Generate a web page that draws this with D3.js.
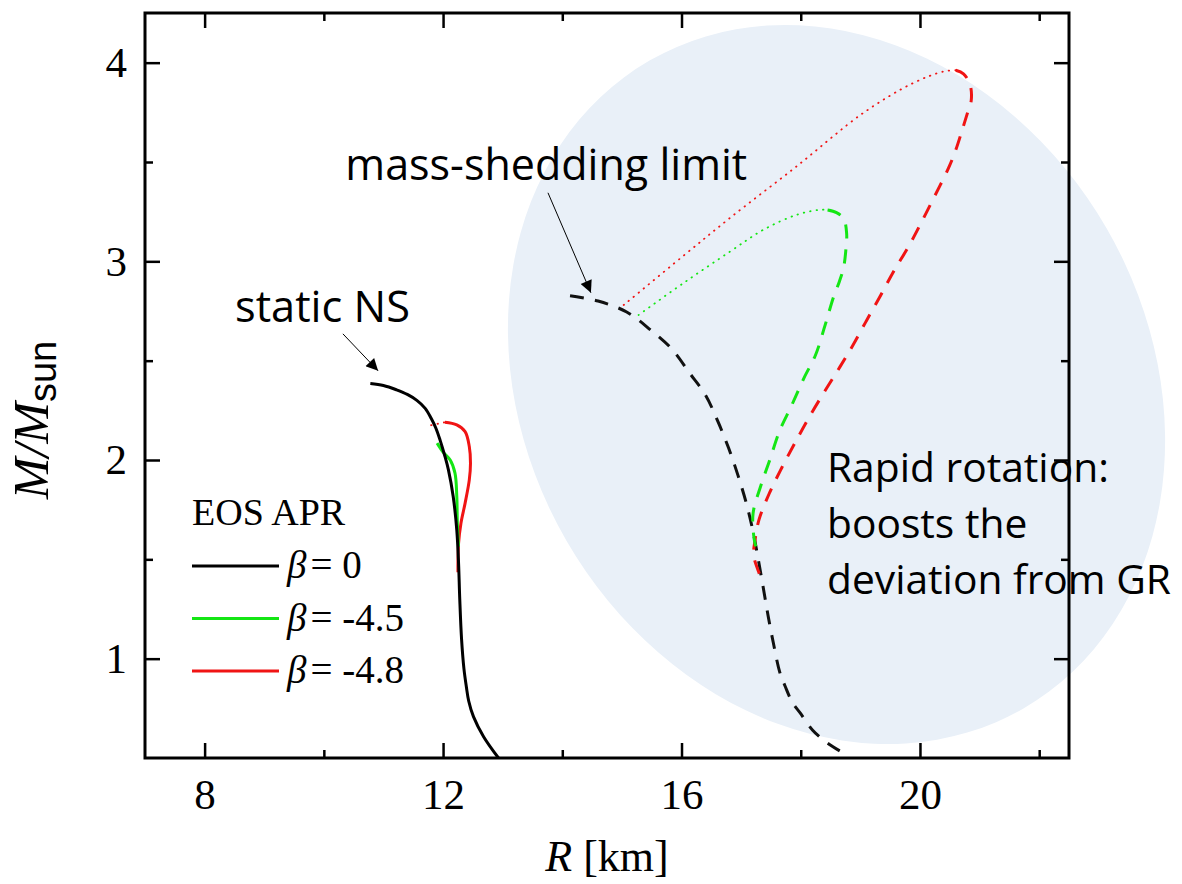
<!DOCTYPE html>
<html>
<head>
<meta charset="utf-8">
<script src="https://cdn.jsdelivr.net/npm/d3@7"></script>
<style>
  body { margin: 0; background: #fff; }
  svg { display: block; }
</style>
</head>
<body>
<script>
      const width = 1182;
      const height = 884;
      const margins = { top: 13, right: 113, bottom: 126, left: 145 };

      // R [km], M/Msun
      const staticBeta0 = [
        [10.78, 2.385], [11.0, 2.375], [11.22, 2.353], [11.4, 2.33], [11.56, 2.3],
        [11.7, 2.26], [11.8, 2.21], [11.88, 2.16], [11.95, 2.1], [12.03, 2.02],
        [12.09, 1.95], [12.17, 1.816], [12.23, 1.648], [12.26, 1.48], [12.28, 1.3],
        [12.31, 1.1], [12.35, 0.95], [12.39, 0.86], [12.43, 0.787], [12.51, 0.708],
        [12.68, 0.607], [12.93, 0.5],
      ];
      const staticBeta45 = [
        [11.9, 2.085], [12.0, 2.04], [12.12, 2.0], [12.2, 1.934], [12.23, 1.82],
        [12.24, 1.68], [12.26, 1.564],
      ];
      const staticBeta48 = [
        [12.03, 2.19], [12.23, 2.177], [12.37, 2.143], [12.44, 2.068], [12.46, 1.984],
        [12.44, 1.9], [12.37, 1.783], [12.3, 1.682], [12.26, 1.58], [12.25, 1.48],
        [12.25, 1.435],
      ];
      const staticBeta48Gap = [[11.8, 2.175], [12.03, 2.19]];

      const rotBeta0 = [
        [14.13, 2.827], [14.6, 2.8], [15.08, 2.745], [15.48, 2.655], [15.84, 2.558],
        [16.13, 2.44], [16.4, 2.328], [16.61, 2.194], [16.79, 2.06], [16.95, 1.92],
        [17.09, 1.779], [17.2, 1.64], [17.29, 1.495], [17.37, 1.36], [17.45, 1.22],
        [17.54, 1.08], [17.65, 0.93], [17.74, 0.86], [17.86, 0.78], [17.99, 0.727],
        [18.2, 0.64], [18.45, 0.575], [18.71, 0.526],
      ];
      const rotBeta45 = [
        [18.45, 3.258], [18.6, 3.245], [18.72, 3.215], [18.77, 3.14], [18.76, 3.07],
        [18.72, 2.97], [18.65, 2.9], [18.55, 2.82], [18.41, 2.68], [18.25, 2.53],
        [18.05, 2.41], [17.84, 2.27], [17.65, 2.15], [17.48, 2.0], [17.33, 1.87],
        [17.2, 1.73], [17.22, 1.6], [17.26, 1.55],
      ];
      const rotBeta48 = [
        [20.6, 3.962], [20.73, 3.944], [20.84, 3.89], [20.86, 3.81], [20.8, 3.75],
        [20.72, 3.672], [20.6, 3.56], [20.48, 3.47], [20.25, 3.33], [20.03, 3.2],
        [19.81, 3.075], [19.56, 2.95], [19.33, 2.823], [19.1, 2.7], [18.88, 2.58],
        [18.66, 2.47], [18.4, 2.345], [18.14, 2.215], [17.91, 2.09], [17.68, 1.96],
        [17.47, 1.83], [17.3, 1.7], [17.23, 1.59], [17.21, 1.52], [17.29, 1.44],
        [17.37, 1.38],
      ];
      const sheddingBeta45 = [
        [15.28, 2.73], [16.03, 2.89], [16.82, 3.05], [17.38, 3.16], [17.93, 3.234],
        [18.33, 3.26], [18.45, 3.258],
      ];
      const sheddingBeta48 = [
        [15.03, 2.78], [16.0, 3.02], [16.82, 3.22], [17.93, 3.478], [19.05, 3.747],
        [19.89, 3.898], [20.4, 3.956], [20.6, 3.962],
      ];

      const xMajor = [8, 12, 16, 20];
      const xMinor = [10, 14, 18, 22];
      const yMajor = [1, 2, 3, 4];
      const yMinor = [1.5, 2.5, 3.5];

      const legendNames = ["\u03b2", "\u03b2", "\u03b2"];
      const legendValues = ["= 0", "= -4.5", "= -4.8"];
      const colors = ["#000000", "#14e614", "#f01414"];

      const serif = "'Liberation Serif', 'Times New Roman', serif";
      const sans = "'Open Sans', 'Liberation Sans', sans-serif";

      const canvas = d3
        .select("body")
        .append("svg")
        .attr("width", width)
        .attr("height", height);

      const x = d3
        .scaleLinear()
        .domain([7, 22.5])
        .range([margins.left, width - margins.right]);
      const y = d3
        .scaleLinear()
        .domain([0.5, 4.25])
        .range([height - margins.bottom, margins.top]);

      // shaded ellipse behind everything
      const ec = [18.6, 2.38];
      canvas
        .append("ellipse")
        .attr("cx", x(ec[0]))
        .attr("cy", y(ec[1]))
        .attr("rx", 374)
        .attr("ry", 312)
        .attr("transform", "rotate(60," + x(ec[0]) + "," + y(ec[1]) + ")")
        .attr("fill", "#e9f0f8");

      canvas
        .append("clipPath")
        .attr("id", "plotclip")
        .append("rect")
        .attr("x", x(7))
        .attr("y", y(4.25))
        .attr("width", x(22.5) - x(7))
        .attr("height", y(0.5) - y(4.25));

      const line = d3
        .line()
        .x((d) => x(d[0]))
        .y((d) => y(d[1]))
        .curve(d3.curveCatmullRom.alpha(0.5));

      const curves = canvas.append("g").attr("clip-path", "url(#plotclip)");

      function drawCurve(data, color, kind) {
        const p = curves
          .append("path")
          .datum(data)
          .attr("d", line)
          .attr("fill", "none")
          .attr("stroke", color)
          .attr("stroke-linecap", kind == "dot" ? "round" : "butt");
        if (kind == "solid") {
          p.attr("stroke-width", 3);
        } else if (kind == "dash") {
          p.attr("stroke-width", 3).attr("stroke-dasharray", "14,11");
        } else {
          p.attr("stroke-width", 1.8).attr("stroke-dasharray", "0.5,6");
        }
      }

      drawCurve(sheddingBeta48, colors[2], "dot");
      drawCurve(sheddingBeta45, colors[1], "dot");
      drawCurve(staticBeta48Gap, colors[2], "dot");
      drawCurve(rotBeta0, "#111111", "dash");
      drawCurve(rotBeta48, colors[2], "dash");
      drawCurve(rotBeta45, colors[1], "dash");
      drawCurve(staticBeta48, colors[2], "solid");
      drawCurve(staticBeta45, colors[1], "solid");
      drawCurve(staticBeta0, colors[0], "solid");

      // axes with inward ticks, mirrored on top and right
      function styleAxis(g) {
        g.select(".domain").remove();
        g.selectAll("line").attr("stroke", "#000").attr("stroke-width", 2.5);
        g.selectAll("text")
          .attr("fill", "#000")
          .style("font-family", serif)
          .style("font-size", "43px");
      }

      canvas
        .append("g")
        .attr("transform", "translate(0," + y(0.5) + ")")
        .call(d3.axisBottom(x).tickValues(xMajor).tickSize(-15).tickPadding(20).tickFormat(d3.format("d")))
        .call(styleAxis);
      canvas
        .append("g")
        .attr("transform", "translate(0," + y(0.5) + ")")
        .call(d3.axisBottom(x).tickValues(xMinor).tickSize(-8).tickFormat(""))
        .call(styleAxis);
      canvas
        .append("g")
        .attr("transform", "translate(0," + y(4.25) + ")")
        .call(d3.axisTop(x).tickValues(xMajor).tickSize(-15).tickFormat(""))
        .call(styleAxis);
      canvas
        .append("g")
        .attr("transform", "translate(0," + y(4.25) + ")")
        .call(d3.axisTop(x).tickValues(xMinor).tickSize(-8).tickFormat(""))
        .call(styleAxis);
      canvas
        .append("g")
        .attr("transform", "translate(" + x(7) + ",0)")
        .call(d3.axisLeft(y).tickValues(yMajor).tickSize(-15).tickPadding(18).tickFormat(d3.format("d")))
        .call(styleAxis);
      canvas
        .append("g")
        .attr("transform", "translate(" + x(7) + ",0)")
        .call(d3.axisLeft(y).tickValues(yMinor).tickSize(-8).tickFormat(""))
        .call(styleAxis);
      canvas
        .append("g")
        .attr("transform", "translate(" + x(22.5) + ",0)")
        .call(d3.axisRight(y).tickValues(yMajor).tickSize(-15).tickFormat(""))
        .call(styleAxis);
      canvas
        .append("g")
        .attr("transform", "translate(" + x(22.5) + ",0)")
        .call(d3.axisRight(y).tickValues(yMinor).tickSize(-8).tickFormat(""))
        .call(styleAxis);

      canvas
        .append("rect")
        .attr("x", x(7))
        .attr("y", y(4.25))
        .attr("width", x(22.5) - x(7))
        .attr("height", y(0.5) - y(4.25))
        .attr("fill", "none")
        .attr("stroke", "#000")
        .attr("stroke-width", 3);

      // axis titles
      const xTitle = canvas
        .append("text")
        .attr("x", (x(7) + x(22.5)) / 2)
        .attr("y", 871)
        .attr("text-anchor", "middle")
        .style("font-family", serif)
        .style("font-size", "44px");
      xTitle.append("tspan").style("font-style", "italic").text("R");
      xTitle.append("tspan").text(" [km]");

      const yTitle = canvas
        .append("text")
        .attr("transform", "translate(48,420) rotate(-90)")
        .attr("text-anchor", "middle")
        .style("font-family", serif)
        .style("font-size", "50px");
      yTitle.append("tspan").style("font-style", "italic").text("M/M");
      yTitle
        .append("tspan")
        .attr("dy", 8)
        .style("font-family", "'Liberation Sans', Arial, sans-serif")
        .style("font-size", "38px")
        .text("sun");

      // legend
      canvas
        .append("text")
        .attr("x", 192)
        .attr("y", 525)
        .style("font-family", serif)
        .style("font-size", "38px")
        .text("EOS APR");

      legendValues.forEach((v, i) => {
        const ly = 566 + i * 52.5;
        canvas
          .append("line")
          .attr("x1", 192)
          .attr("x2", 279)
          .attr("y1", ly)
          .attr("y2", ly)
          .attr("stroke", colors[i])
          .attr("stroke-width", 3);
        const t = canvas
          .append("text")
          .attr("x", 287)
          .attr("y", ly + 12)
          .style("font-family", serif)
          .style("font-size", "39px");
        t.append("tspan").style("font-style", "italic").text(legendNames[i]);
        t.append("tspan").attr("dx", 4).text(v);
      });

      // annotations
      canvas
        .append("defs")
        .append("marker")
        .attr("id", "head")
        .attr("viewBox", "0 0 10 10")
        .attr("refX", 10)
        .attr("refY", 5)
        .attr("markerWidth", 18)
        .attr("markerHeight", 12)
        .attr("markerUnits", "userSpaceOnUse")
        .attr("orient", "auto")
        .append("path")
        .attr("d", "M0,0 L10,5 L0,10 z")
        .attr("fill", "#000");

      function arrow(a, b) {
        canvas
          .append("line")
          .attr("x1", x(a[0]))
          .attr("y1", y(a[1]))
          .attr("x2", x(b[0]))
          .attr("y2", y(b[1]))
          .attr("stroke", "#000")
          .attr("stroke-width", 1)
          .attr("marker-end", "url(#head)");
      }
      arrow([10.32, 2.635], [10.91, 2.449]);
      arrow([13.76, 3.345], [14.48, 2.842]);

      // text fitted to the width it has in the figure
      function note(lines, r, m, lineGap, targetWidth) {
        const g = canvas.append("g");
        const texts = lines.map((txt, i) =>
          g
            .append("text")
            .attr("x", x(r))
            .attr("y", y(m) + i * lineGap)
            .style("font-family", sans)
            .style("font-size", "40px")
            .attr("fill", "#000")
            .text(txt)
        );
        const w = d3.max(texts, (t) => t.node().getComputedTextLength());
        const size = (40 * targetWidth) / w;
        texts.forEach((t) => t.style("font-size", size + "px"));
      }

      note(["static NS"], 8.51, 2.695, 0, 175);
      note(["mass-shedding limit"], 10.36, 3.41, 0, 402);
      note(["Rapid rotation:", "boosts the", "deviation from GR"], 18.44, 1.89, 56, 344);
</script>
</body>
</html>
